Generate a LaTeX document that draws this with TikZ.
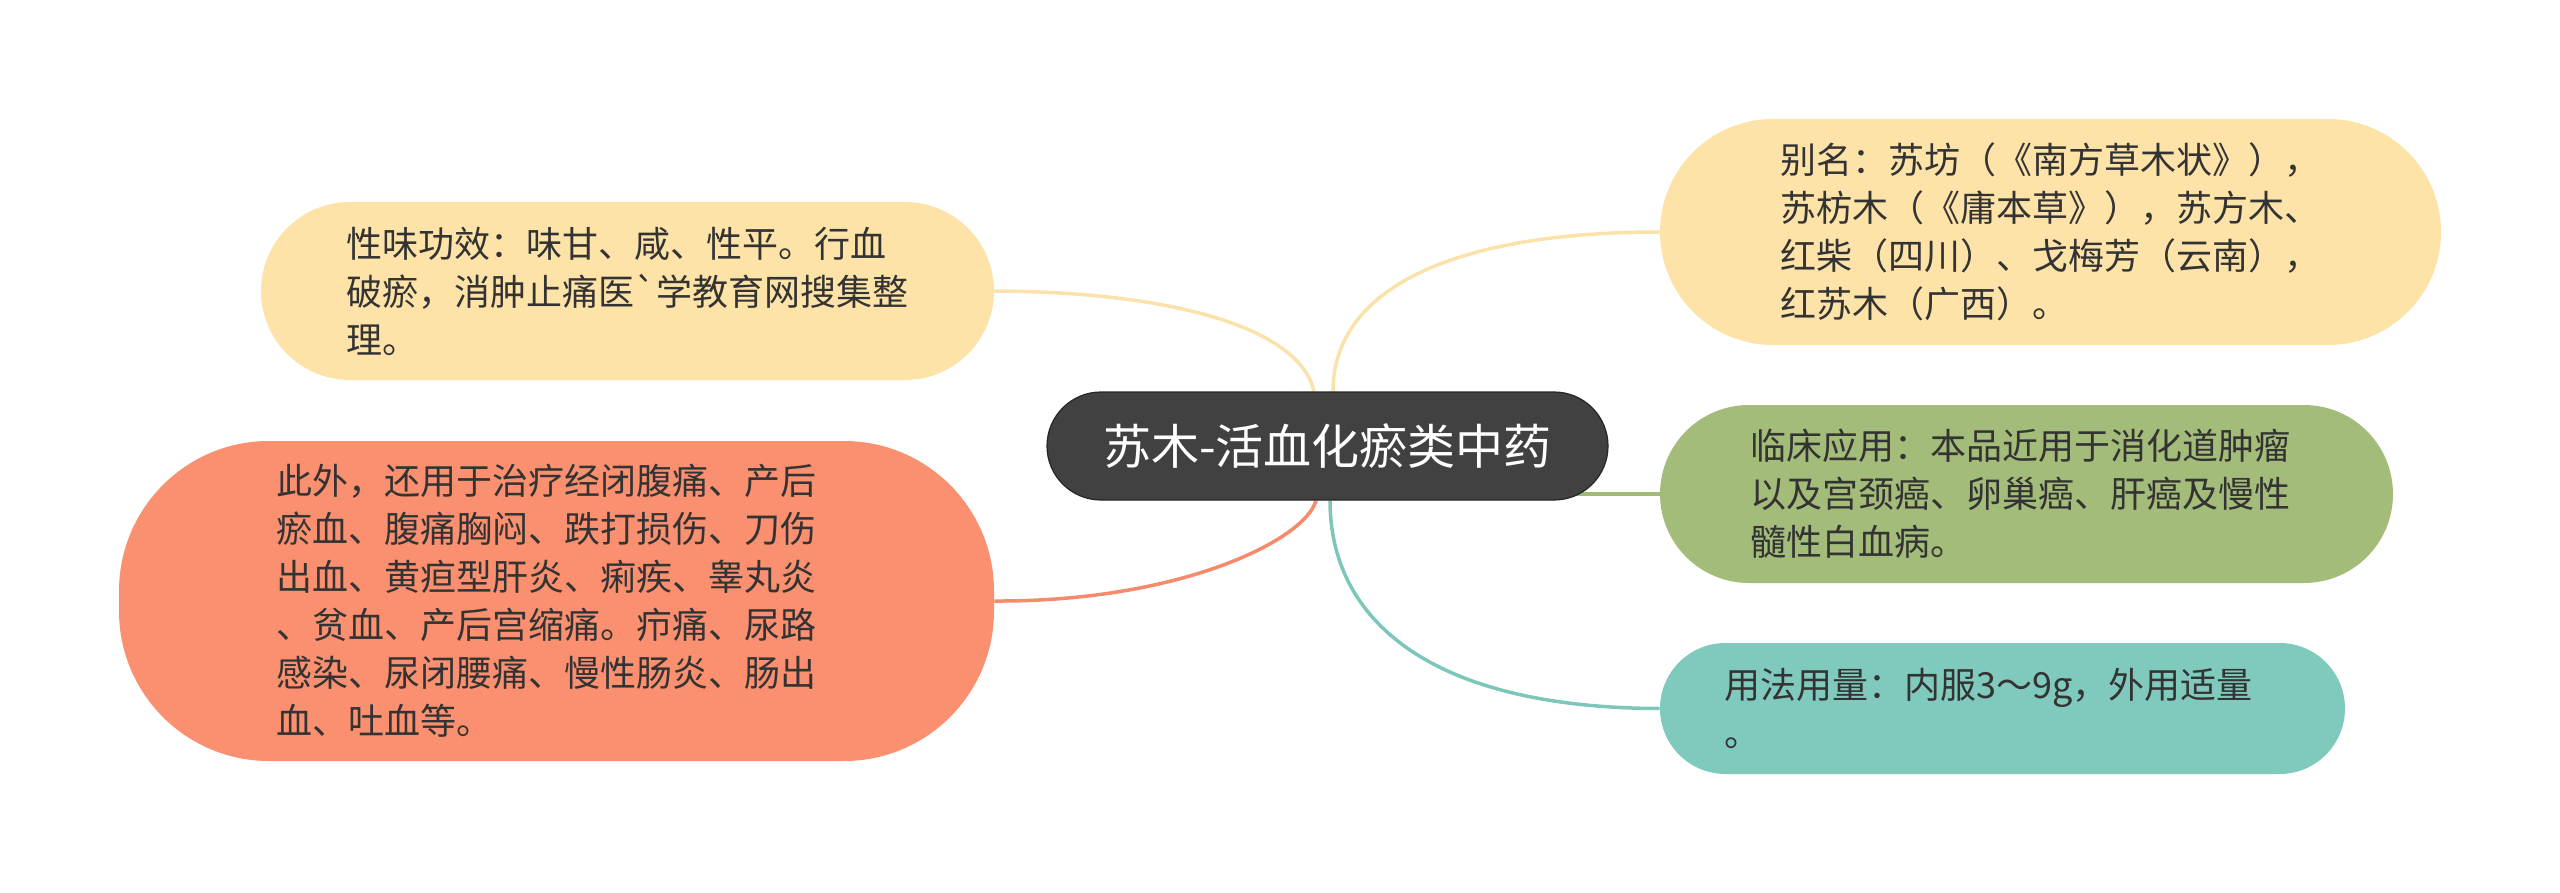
\documentclass[tikz,border=0pt]{standalone}
\usepackage{fontspec}
\newfontfamily\cjk{Noto Sans CJK SC}
\usetikzlibrary{backgrounds}
\definecolor{ybox}{HTML}{FDE3A8}
\definecolor{sbox}{HTML}{FA906F}
\definecolor{gbox}{HTML}{A4BC79}
\definecolor{tbox}{HTML}{80CABD}
\definecolor{cbox}{HTML}{414141}
\definecolor{txt}{HTML}{333333}
\definecolor{yline}{HTML}{FAE2AA}
\definecolor{sline}{HTML}{F58B6B}
\definecolor{gline}{HTML}{A2BA77}
\definecolor{tline}{HTML}{7CC7B9}
\tikzset{
  branch/.style={rectangle, align=left, text=txt, inner sep=0pt,
    font=\cjk\fontsize{18pt}{24pt}\selectfont},
  mainbox/.style={rectangle, fill=cbox, draw=black!85, line width=0.6pt,
    rounded corners=27pt, minimum width=280.5pt, minimum height=54pt,
    text=white, inner sep=0pt, font=\cjk\fontsize{24pt}{28pt}\selectfont},
  conn/.style={line width=1.75pt}
}
\begin{document}
\begin{tikzpicture}[x=0.5pt,y=-0.5pt]
\useasboundingbox (0,0) rectangle (2560,893);
% branches
\node[branch, fill=ybox, rounded corners=44.5pt, minimum width=366.5pt, minimum height=89pt] (n1) at (627.5,291)
  {性味功效：味甘、咸、性平。行血\\破瘀，消肿止痛医`学教育网搜集整\\理。};
\node[branch, fill=sbox, rounded corners=75pt, minimum width=437.5pt, minimum height=160pt] (n2) at (556.5,601)
  {此外，还用于治疗经闭腹痛、产后\hspace*{10pt}\\瘀血、腹痛胸闷、跌打损伤、刀伤\\出血、黄疸型肝炎、痢疾、睾丸炎\\、贫血、产后宫缩痛。疖痛、尿路\\感染、尿闭腰痛、慢性肠炎、肠出\\血、吐血等。};
\node[branch, fill=ybox, rounded corners=56.5pt, minimum width=390.5pt, minimum height=113pt] (n3) at (2050.5,232)
  {别名：苏坊（《南方草木状》），\\苏枋木（《庸本草》），苏方木、\\红柴（四川）、戈梅芳（云南），\\红苏木（广西）。};
\node[branch, fill=gbox, rounded corners=44.5pt, minimum width=366.5pt, minimum height=89pt] (n4) at (2026.5,494)
  {临床应用：本品近用于消化道肿瘤\hspace*{6pt}\\以及宫颈癌、卵巢癌、肝癌及慢性\\髓性白血病。};
\node[branch, fill=tbox, rounded corners=32.75pt, minimum width=342.5pt, minimum height=65.5pt] (n5) at (2002.5,708.5)
  {用法用量：内服3～9g，外用适量\hspace*{14pt}\\。};
% center
\node[mainbox] (c) at (1327.5,446) {苏木-活血化瘀类中药};
% connectors
\begin{scope}[on background layer]
\draw[conn, yline] (n1.east) .. controls (1180,292) and (1300,330) .. ([xshift=-6.75pt]c.north);
\draw[conn, yline] (n3.west) .. controls (1450,232) and (1333,290) .. ([xshift=2.75pt]c.north);
\draw[conn, sline] (n2.east) .. controls (1180,602) and (1305,540) .. ([xshift=-5.75pt]c.south);
\draw[conn, tline] (n5.west) .. controls (1430,708) and (1330,620) .. ([xshift=1.25pt]c.south);
\draw[conn, gline] (c.center |- n4.west) -- (n4.west);
\end{scope}
\end{tikzpicture}
\end{document}
